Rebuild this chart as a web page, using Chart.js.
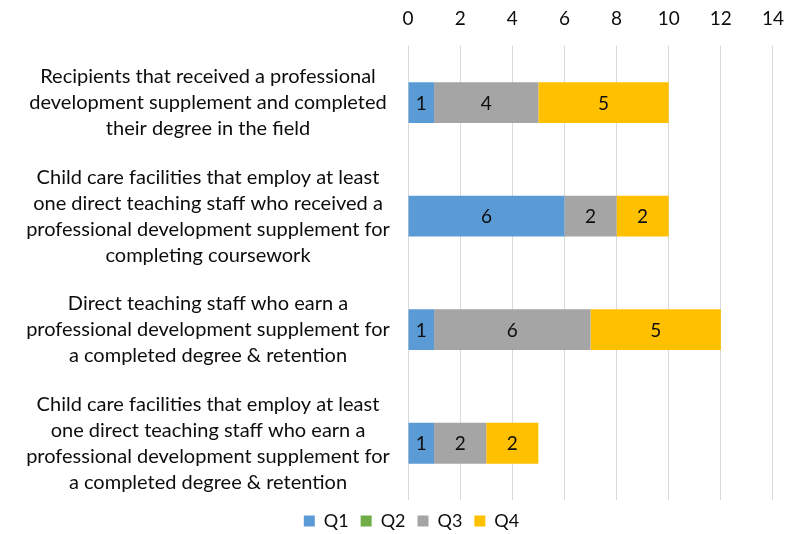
<!DOCTYPE html>
<html>
<head>
<meta charset="utf-8">
<script src="https://cdn.jsdelivr.net/npm/chart.js@4"></script>
<style>
  body { margin: 0; background: #fff; }
  canvas { display: block; }
</style>
</head>
<body>
<canvas id="chart" width="800" height="534"></canvas>
<script>
const categories = [
    ['Recipients that received a professional', 'development supplement and completed', 'their degree in the field'],
    ['Child care facilities that employ at least', 'one direct teaching staff who received a', 'professional development supplement for', 'completing coursework'],
    ['Direct teaching staff who earn a', 'professional development supplement for', 'a completed degree & retention'],
    ['Child care facilities that employ at least', 'one direct teaching staff who earn a', 'professional development supplement for', 'a completed degree & retention']
];
const q1 = [1, 6, 1, 1];
const q2 = [0, 0, 0, 0];
const q3 = [4, 2, 6, 2];
const q4 = [5, 2, 5, 2];
const xTicks = [0, 2, 4, 6, 8, 10, 12, 14];

const FONT = 'Lato, "Open Sans", sans-serif';
const TEXT = '#0d0d0d';

// writes the numbers inside each bar segment
const barLabels = {
    id: 'barLabels',
    afterDatasetsDraw(chart) {
        const ctx = chart.ctx;
        ctx.save();
        ctx.font = '19px ' + FONT;
        ctx.fillStyle = TEXT;
        ctx.textAlign = 'center';
        ctx.textBaseline = 'middle';
        chart.data.datasets.forEach((ds, i) => {
            chart.getDatasetMeta(i).data.forEach((bar, j) => {
                const v = ds.data[j];
                if (!v) return;
                const x = (bar.x + bar.base) / 2;
                ctx.fillText(String(v), x, bar.y + 1);
            });
        });
        ctx.restore();
    }
};

// category labels, centred as a block left of the plot
const catLabels = {
    id: 'catLabels',
    afterDraw(chart) {
        const ctx = chart.ctx;
        const y = chart.scales.y;
        const lineH = 26;
        ctx.save();
        ctx.font = '20px ' + FONT;
        ctx.fillStyle = TEXT;
        ctx.textAlign = 'center';
        ctx.textBaseline = 'middle';
        categories.forEach((lines, i) => {
            const cy = y.getPixelForValue(i);
            const top = cy - (lines.length - 1) * lineH / 2;
            lines.forEach((ln, k) => ctx.fillText(ln, 208, top + k * lineH));
        });
        ctx.restore();
    }
};

new Chart(document.getElementById('chart'), {
    type: 'bar',
    data: {
        labels: categories,
        datasets: [
            { label: 'Q1', data: q1, backgroundColor: '#5B9BD5' },
            { label: 'Q2', data: q2, backgroundColor: '#70AD47' },
            { label: 'Q3', data: q3, backgroundColor: '#A5A5A5' },
            { label: 'Q4', data: q4, backgroundColor: '#FFC000' }
        ]
    },
    options: {
        indexAxis: 'y',
        responsive: false,
        animation: false,
        datasets: { bar: { categoryPercentage: 1, barPercentage: 0.36 } },
        layout: { padding: { left: 50, right: 27, top: -9, bottom: -6 } },
        scales: {
            x: {
                position: 'top',
                stacked: true,
                min: 0,
                max: 14,
                afterBuildTicks: s => { s.ticks = xTicks.map(v => ({ value: v })); },
                grid: { color: '#d9d9d9', lineWidth: 1, drawTicks: false },
                border: { display: false },
                ticks: { color: TEXT, font: { family: FONT, size: 19 }, padding: 16 }
            },
            y: {
                stacked: true,
                grid: { display: false },
                border: { display: false },
                ticks: { display: false },
                afterFit: s => { s.width = 358; }
            }
        },
        plugins: {
            legend: {
                position: 'bottom',
                labels: {
                    boxWidth: 11,
                    boxHeight: 11,
                    padding: 12,
                    color: TEXT,
                    font: { family: FONT, size: 18 }
                }
            },
            tooltip: { enabled: false }
        }
    },
    plugins: [barLabels, catLabels]
});
</script>
</body>
</html>
